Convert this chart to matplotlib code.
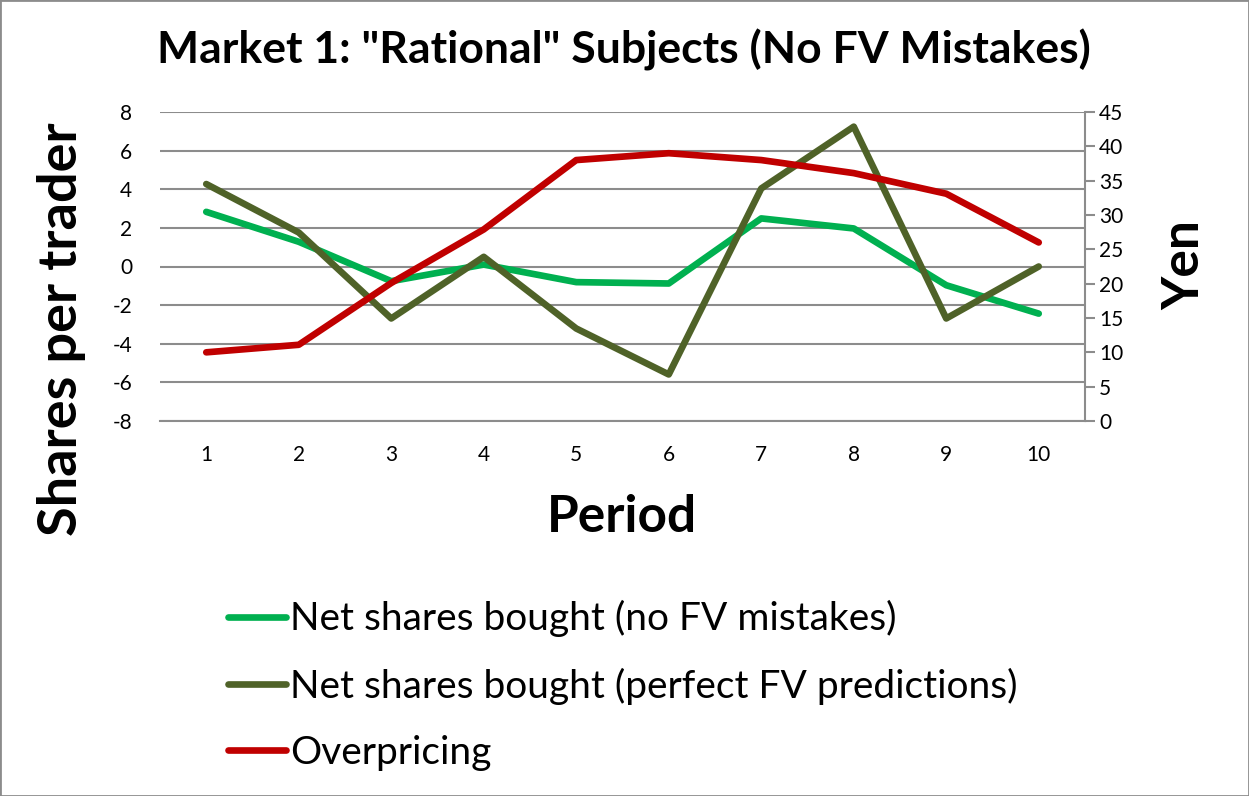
import matplotlib.pyplot as plt
from matplotlib.patches import Rectangle

# data
periods = [1, 2, 3, 4, 5, 6, 7, 8, 9, 10]
no_fv_mistakes = [2.83, 1.28, -0.76, 0.1, -0.81, -0.88, 2.49, 1.97, -0.97, -2.44]
perfect_fv = [4.27, 1.76, -2.69, 0.5, -3.21, -5.59, 4.04, 7.24, -2.69, 0.0]
overpricing = [10.0, 11.1, 20.1, 27.9, 38.0, 39.0, 38.0, 36.1, 33.1, 26.0]

plt.rcParams['font.family'] = ['Lato', 'DejaVu Sans']
plt.rcParams['axes.unicode_minus'] = False

fig = plt.figure(figsize=(12.49, 7.96), dpi=100)
W, H = 1249, 796
ax = fig.add_axes([160 / W, 1 - 421 / H, 925 / W, 309 / H])
ax2 = ax.twinx()

grid_c = '#8c8c8c'
ax.set_xlim(0.5, 10.5)
ax.set_ylim(-8, 8)
ax.set_yticks(range(-8, 9, 2))
ax.set_xticks(periods)
ax.grid(True, axis='y', color=grid_c, linewidth=1.5)
ax.set_axisbelow(True)
ax.tick_params(axis='y', length=0, labelsize=15, pad=20)
ax.tick_params(axis='x', length=0, labelsize=15, pad=17)
for s in ['left', 'top', 'right']:
    ax.spines[s].set_visible(False)
ax.spines['bottom'].set_color(grid_c)
ax.spines['bottom'].set_linewidth(1.5)

ax2.set_ylim(0, 45)
ax2.set_yticks(range(0, 46, 5))
ax2.tick_params(axis='y', length=7, width=1.5, color=grid_c, labelsize=15, pad=3)
for s in ['left', 'top', 'bottom']:
    ax2.spines[s].set_visible(False)
ax2.spines['right'].set_color(grid_c)
ax2.spines['right'].set_linewidth(1.5)

lw = 4.8
l1, = ax.plot(periods, no_fv_mistakes, color='#00B050', linewidth=lw,
              solid_capstyle='round', solid_joinstyle='round',
              label='Net shares bought (no FV mistakes)')
l2, = ax.plot(periods, perfect_fv, color='#4F6228', linewidth=lw,
              solid_capstyle='round', solid_joinstyle='round',
              label='Net shares bought (perfect FV predictions)')
l3, = ax2.plot(periods, overpricing, color='#C00000', linewidth=lw,
               solid_capstyle='round', solid_joinstyle='round',
               label='Overpricing')

# axis titles placed as in the reference
fig.text(622 / W, 1 - 517 / H, 'Period', fontsize=37, fontweight='bold',
         ha='center', va='center')
fig.text(62 / W, 1 - 329 / H, 'Shares per trader', fontsize=39, fontweight='bold',
         ha='center', va='center', rotation=90)
fig.text(1185 / W, 1 - 265 / H, 'Yen', fontsize=37, fontweight='bold',
         ha='center', va='center', rotation=90)

fig.text(624 / W, 1 - 50 / H, 'Market 1: "Rational" Subjects (No FV Mistakes)',
         fontsize=32, fontweight='bold', ha='center', va='center')

fig.legend(handles=[l1, l2, l3], loc='upper left', bbox_to_anchor=(228 / W, 1 - 600 / H),
           frameon=False, fontsize=28, handlelength=1.5, handletextpad=0.1,
           labelspacing=0.78, borderpad=0, borderaxespad=0)

fig.patches.append(Rectangle((0, 0), 1, 1, transform=fig.transFigure, fill=False,
                             edgecolor='#8c8c8c', linewidth=2))

fig.savefig('out.png', dpi=100)
